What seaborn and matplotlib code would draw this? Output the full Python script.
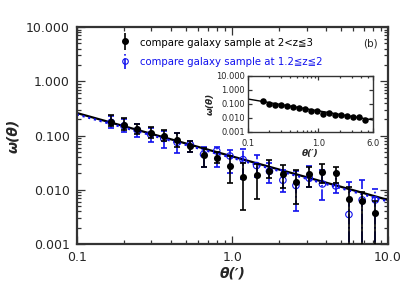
import numpy as np
import pandas as pd
import matplotlib
matplotlib.use('Agg')
import matplotlib.pyplot as plt
import seaborn as sns
from matplotlib.ticker import FixedLocator, FixedFormatter, LogLocator, NullFormatter
from matplotlib.legend_handler import HandlerErrorbar
from matplotlib.container import ErrorbarContainer

# angular separation (arcmin), shared by both samples
theta = [0.166, 0.201, 0.245, 0.298, 0.362, 0.441, 0.536, 0.652, 0.793, 0.964,
         1.17, 1.43, 1.73, 2.11, 2.56, 3.12, 3.79, 4.61, 5.61, 6.82, 8.29]

# 2<z<=3 sample (black): value, lower and upper end of the error bar
w_hi_z = [0.180, 0.155, 0.130, 0.110, 0.097, 0.083, 0.064, 0.044, 0.039, 0.027,
          0.017, 0.0187, 0.0225, 0.0193, 0.0141, 0.0193, 0.0215, 0.0201, 0.0068, 0.0062, 0.0037]
lo_hi_z = [0.150, 0.126, 0.107, 0.090, 0.079, 0.061, 0.050, 0.026, 0.031, 0.0135,
           0.0042, 0.0067, 0.0163, 0.0108, 0.0055, 0.0114, 0.0135, 0.0132, 0.0001, 0.0001, 0.0001]
up_hi_z = [0.239, 0.210, 0.163, 0.143, 0.126, 0.111, 0.080, 0.058, 0.050, 0.042,
           0.031, 0.030, 0.035, 0.0286, 0.0231, 0.0266, 0.0294, 0.0266, 0.0114, 0.0092, 0.0062]

# 1.2<=z<=2 sample (blue)
w_lo_z = [0.175, 0.150, 0.125, 0.105, 0.088, 0.075, 0.068, 0.045, 0.052, 0.042,
          0.036, 0.028, 0.022, 0.015, 0.012, 0.0163, 0.0128, 0.0118, 0.0035, 0.0065, 0.0065]
lo_lo_z = [0.140, 0.115, 0.095, 0.075, 0.059, 0.048, 0.050, 0.026, 0.0266, 0.020,
           0.0160, 0.0174, 0.0132, 0.0090, 0.0041, 0.0114, 0.0065, 0.0087, 0.0001, 0.0001, 0.0001]
up_lo_z = [0.230, 0.200, 0.160, 0.140, 0.120, 0.110, 0.080, 0.062, 0.062, 0.054,
           0.056, 0.044, 0.031, 0.023, 0.022, 0.027, 0.023, 0.020, 0.0141, 0.0151, 0.0103]

# power-law fits, end points in log-log space
fit_x = [0.1, 10.0]
fit_black = [0.26, 0.0065]
fit_blue = [0.245, 0.0061]

# inset: black sample only
inset_theta = theta[:18]
inset_w = [0.146, 0.100, 0.085, 0.077, 0.069, 0.055, 0.050, 0.042, 0.0325, 0.0325,
           0.020, 0.022, 0.0146, 0.0153, 0.0124, 0.0105, 0.0105, 0.0065]
inset_fit_x = [0.1, 6.0]
inset_fit_w = [0.22, 0.0069]

labels = ['compare galaxy sample at 2<z≦3', 'compare galaxy sample at 1.2≦z≦2']

sns.set_style('ticks')
plt.rcParams['font.family'] = ['DejaVu Sans']

blue = '#1010ee'
axc = '#333333'

fig = plt.figure(figsize=(4.11, 2.94), dpi=100)
ax = fig.add_axes([0.187, 0.170, 0.757, 0.738])

def style_log_axes(a, lw, major_len, minor_len):
    a.set_xscale('log')
    a.set_yscale('log')
    for s in a.spines.values():
        s.set_linewidth(lw)
        s.set_color(axc)
    a.tick_params(which='both', direction='in', top=True, right=True, color=axc, width=0.9)
    a.tick_params(which='major', length=major_len)
    a.tick_params(which='minor', length=minor_len)
    a.yaxis.set_minor_locator(LogLocator(base=10, subs=np.arange(2, 10)))
    a.xaxis.set_minor_locator(LogLocator(base=10, subs=np.arange(2, 10)))
    a.xaxis.set_minor_formatter(NullFormatter())
    a.yaxis.set_minor_formatter(NullFormatter())

style_log_axes(ax, 1.6, 6, 3)

# fit lines
sns.lineplot(x=fit_x, y=fit_black, ax=ax, color='black', lw=1.6)
sns.lineplot(x=fit_x, y=fit_blue, ax=ax, color=blue, lw=1.6, linestyle=':')

# blue sample with dash-dot error bars
eb = ax.errorbar(theta, w_lo_z,
                 yerr=[np.array(w_lo_z) - np.array(lo_lo_z), np.array(up_lo_z) - np.array(w_lo_z)],
                 fmt='none', ecolor=blue, elinewidth=1.2, capsize=2.5, capthick=1.2, zorder=3)
eb[2][0].set_linestyle('-.')
sns.scatterplot(x=theta, y=w_lo_z, ax=ax, marker='o', s=22, facecolor='none',
                edgecolor=blue, linewidth=0.8, zorder=4)

# black sample
ax.errorbar(theta, w_hi_z,
            yerr=[np.array(w_hi_z) - np.array(lo_hi_z), np.array(up_hi_z) - np.array(w_hi_z)],
            fmt='none', ecolor='black', elinewidth=1.2, capsize=2.5, capthick=1.2, zorder=5)
sns.scatterplot(x=theta, y=w_hi_z, ax=ax, marker='o', s=26, color='black',
                edgecolor='black', linewidth=0, zorder=6)

ax.set_xlim(0.1, 10)
ax.set_ylim(0.001, 10)
ax.xaxis.set_major_locator(FixedLocator([0.1, 1, 10]))
ax.xaxis.set_major_formatter(FixedFormatter(['0.1', '1.0', '10.0']))
ax.yaxis.set_major_locator(FixedLocator([0.001, 0.01, 0.1, 1, 10]))
ax.yaxis.set_major_formatter(FixedFormatter(['0.001', '0.010', '0.100', '1.000', '10.000']))
ax.tick_params(axis='both', labelsize=9, pad=5)
ax.set_xlabel('θ(′)', fontsize=10, fontweight='bold', style='italic', labelpad=2)
ax.set_ylabel('ω(θ)', fontsize=10, fontweight='bold', style='italic', labelpad=4)

# legend handles (NaN points, only the legend shows them)
h1 = ax.errorbar([np.nan], [np.nan], yerr=[[0.1], [0.1]], fmt='o', color='black',
                 ms=4, elinewidth=1.2, capsize=0, label=labels[0])
h2 = ax.errorbar([np.nan], [np.nan], yerr=[[0.1], [0.1]], fmt='o', color=blue, mfc='none',
                 ms=4, mew=0.8, elinewidth=1.2, capsize=0, label=labels[1])
for lc in h2[2]:
    lc.set_linestyle('-.')
leg = ax.legend(handles=[h1, h2], loc='upper left', bbox_to_anchor=(0.125, 0.975),
                frameon=False, fontsize=7.3, handlelength=1.0, handleheight=1.6,
                handletextpad=1.0, labelspacing=0.6, borderaxespad=0,
                handler_map={ErrorbarContainer: HandlerErrorbar(yerr_size=0.8)})
for t, c in zip(leg.get_texts(), ['black', blue]):
    t.set_color(c)
ax.text(0.945, 0.925, '(b)', transform=ax.transAxes, fontsize=7.5, va='center', ha='center')

# inset
ins = fig.add_axes([0.603, 0.552, 0.305, 0.190])
style_log_axes(ins, 1.0, 3, 1.5)
sns.lineplot(x=inset_fit_x, y=inset_fit_w, ax=ins, color='black', lw=1.0)
sns.scatterplot(x=inset_theta, y=inset_w, ax=ins, marker='o', s=22, color='black',
                linewidth=0, zorder=4)
ins.set_xlim(0.1, 6.0)
ins.set_ylim(0.001, 10)
ins.xaxis.set_major_locator(FixedLocator([0.1, 1, 6]))
ins.xaxis.set_major_formatter(FixedFormatter(['0.1', '1.0', '6.0']))
ins.yaxis.set_major_locator(FixedLocator([0.001, 0.01, 0.1, 1, 10]))
ins.yaxis.set_major_formatter(FixedFormatter(['0.001', '0.010', '0.100', '1.000', '10.000']))
ins.tick_params(axis='both', labelsize=6, pad=2)
ins.tick_params(axis='x', pad=5)
ins.set_xlabel('θ(′)', fontsize=6.5, fontweight='bold', style='italic', labelpad=1)
ins.set_ylabel('ω(θ)', fontsize=6.5, fontweight='bold', style='italic', labelpad=1)

fig.savefig('out.png', dpi=100)
